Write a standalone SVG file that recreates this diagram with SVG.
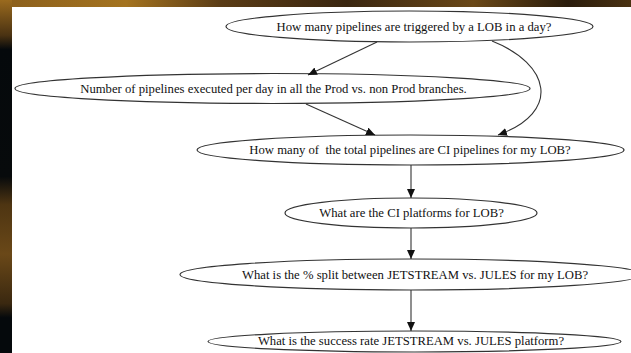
<svg xmlns="http://www.w3.org/2000/svg" width="631" height="353" viewBox="0 0 631 353">
  <defs>
    <style>
      .node ellipse { fill: #ffffff; stroke: #333333; stroke-width: 1.2; }
      .node text { font-family: "Liberation Serif", "Times New Roman", serif; font-size: 12.7px; fill: #111111; text-anchor: middle; white-space: pre; }
      .edge { fill: none; stroke: #333333; stroke-width: 1.1; }
    </style>
    <marker id="arrow" markerUnits="userSpaceOnUse" markerWidth="10" markerHeight="8" refX="9" refY="4" orient="auto">
      <path d="M0,0 L9,4 L0,8 Z" fill="#111111"/>
    </marker>
    <linearGradient id="topBand" x1="0" y1="0" x2="1" y2="0">
      <stop offset="0" stop-color="#8a5e1c"/>
      <stop offset="0.2" stop-color="#a4731f"/>
      <stop offset="0.35" stop-color="#5a3c16"/>
      <stop offset="0.55" stop-color="#3a2610"/>
      <stop offset="0.75" stop-color="#6a4818"/>
      <stop offset="0.9" stop-color="#2a1c0c"/>
      <stop offset="1" stop-color="#4a3212"/>
    </linearGradient>
    <linearGradient id="leftBand" x1="0" y1="0" x2="0" y2="1">
      <stop offset="0" stop-color="#9a6a1e"/>
      <stop offset="0.1" stop-color="#4a3212"/>
      <stop offset="0.14" stop-color="#05090c"/>
      <stop offset="0.5" stop-color="#070a0c"/>
      <stop offset="0.58" stop-color="#4e3512"/>
      <stop offset="0.72" stop-color="#6a4818"/>
      <stop offset="0.86" stop-color="#3a2810"/>
      <stop offset="0.9" stop-color="#05090c"/>
      <stop offset="1" stop-color="#05090c"/>
    </linearGradient>
  </defs>

  <!-- backdrop -->
  <rect x="0" y="0" width="631" height="353" fill="#05090c"/>
  <rect x="0" y="0" width="631" height="8" fill="url(#topBand)"/>
  <rect x="0" y="0" width="12" height="353" fill="url(#leftBand)"/>
  <rect x="12" y="7" width="619" height="346" fill="#ffffff"/>

  <!-- nodes -->
  <g id="n1" class="node">
    <ellipse cx="409.5" cy="26.5" rx="183.5" ry="15.5"/>
    <text x="414" y="30.5">How many pipelines are triggered by a LOB in a day?</text>
  </g>
  <g id="n2" class="node">
    <ellipse cx="272.5" cy="88.5" rx="257.5" ry="15"/>
    <text x="273.5" y="92.5">Number of pipelines executed per day in all the Prod vs. non Prod branches.</text>
  </g>
  <g id="n3" class="node">
    <ellipse cx="410.5" cy="150" rx="213.5" ry="15"/>
    <text x="410" y="154">How many of  the total pipelines are CI pipelines for my LOB?</text>
  </g>
  <g id="n4" class="node">
    <ellipse cx="411" cy="213" rx="126" ry="15"/>
    <text x="411.5" y="217">What are the CI platforms for LOB?</text>
  </g>
  <g id="n5" class="node">
    <ellipse cx="411" cy="274.5" rx="231" ry="15.5"/>
    <text x="415" y="278.5">What is the % split between JETSTREAM vs. JULES for my LOB?</text>
  </g>
  <g id="n6" class="node">
    <ellipse cx="414.5" cy="341.5" rx="206.5" ry="10.5"/>
    <text x="411" y="345">What is the success rate JETSTREAM vs. JULES platform?</text>
  </g>

  <!-- connectors, drawn over the node outlines so the heads stay visible -->
  <g id="edges">
    <path class="edge" d="M377,42 L308,75" marker-end="url(#arrow)"/>
    <path class="edge" d="M492,41 C550,64 562,112 498,135" marker-end="url(#arrow)"/>
    <path class="edge" d="M306,104 L375,135" marker-end="url(#arrow)"/>
    <path class="edge" d="M411,165 L411,198" marker-end="url(#arrow)"/>
    <path class="edge" d="M411,228 L411,259" marker-end="url(#arrow)"/>
    <path class="edge" d="M411,290 L411,331" marker-end="url(#arrow)"/>
  </g>
</svg>
